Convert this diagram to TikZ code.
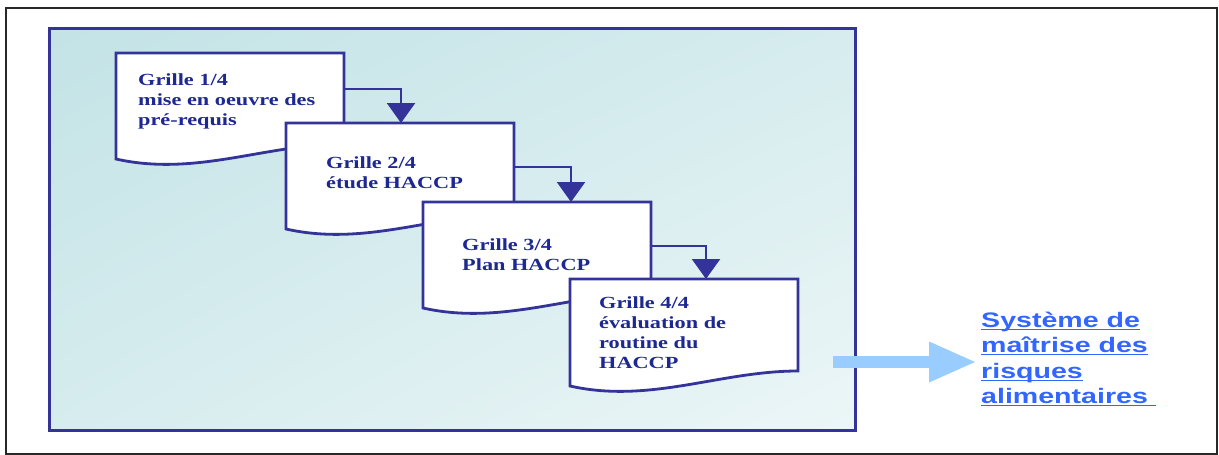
\documentclass[tikz,border=0pt]{standalone}
\usepackage{fontspec}
\usetikzlibrary{arrows.meta,calc,shadings}
\newfontfamily\docfont[FakeStretch=1.31]{Liberation Serif}
\newfontfamily\linkfont[FakeStretch=1.36]{Liberation Sans}
\definecolor{boxblue}{RGB}{51,51,153}
\definecolor{doctext}{RGB}{30,40,145}
\definecolor{linkblue}{RGB}{51,102,255}
\definecolor{arrowblue}{RGB}{153,204,255}
\definecolor{tealA}{RGB}{195,227,230}
\definecolor{tealB}{RGB}{214,236,238}
\definecolor{tealC}{RGB}{236,246,247}
\definecolor{framegray}{RGB}{40,40,40}
\newcommand\ulink[1]{\setbox0\hbox{#1}\rlap{\rule[-2.8pt]{\wd0}{1.4pt}}\box0}
\tikzset{
  docframe/.style={draw=none, inner sep=0pt, outer sep=0pt, minimum width=228pt, minimum height=106pt, anchor=north west},
  docline/.style={draw=boxblue, line width=2.8pt, fill=white, line join=miter},
  doctxt/.style={inner sep=0pt, anchor=north west, align=left, text=doctext, font=\docfont\bfseries\fontsize{17}{20}\selectfont},
  flow/.style={draw=boxblue, line width=2.4pt, -{Triangle[width=28pt,length=20pt]}},
}
\newcommand\docshape[1]{%
  \path[docline] (#1.north west) -- (#1.north east) -- ([yshift=15pt]#1.south east)
    .. controls ([xshift=-78pt,yshift=15pt]#1.south east) and ([xshift=80pt,yshift=-18pt]#1.south west) .. (#1.south west) -- cycle;}
\begin{document}
\begin{tikzpicture}[x=1pt,y=-1pt]
\useasboundingbox (0,0) rectangle (1219,455);
% outer frame
\node[draw=framegray, line width=1.8pt, inner sep=0pt, minimum width=1211pt, minimum height=446pt, anchor=north west] (frame) at (5,7) {};
% shaded box
\node[draw=boxblue, line width=3pt, upper left=tealA, upper right=tealB, lower left=tealB, lower right=tealC, inner sep=0pt, minimum width=806pt, minimum height=402pt, anchor=north west] (box) at (48,27) {};
% documents
\node[docframe] (d1) at (116,53) {};
\docshape{d1}
\node[docframe] (d2) at (286,123) {};
\docshape{d2}
\node[docframe] (d3) at (423,202) {};
\docshape{d3}
\node[docframe, minimum height=107pt] (d4) at (570,279) {};
\docshape{d4}
% texts
\node[doctxt] (t1) at (138,73.3) {Grille 1/4\\mise en oeuvre des\\pré-requis};
\node[doctxt] (t2) at (326,156.3) {Grille 2/4\\étude HACCP};
\node[doctxt] (t3) at (462,238.3) {Grille 3/4\\Plan HACCP};
\node[doctxt] (t4) at (599,296.3) {Grille 4/4\\évaluation de\\routine du\\HACCP};
% connectors
\draw[flow] ([yshift=-36pt]d1.north east) -| ([xshift=115pt]d2.north west);
\draw[flow] ([yshift=-44pt]d2.north east) -| ([xshift=148pt]d3.north west);
\draw[flow] ([yshift=-44pt]d3.north east) -| ([xshift=136pt]d4.north west);
% result text
\node[inner sep=0pt, anchor=north west, align=left, text=linkblue, font=\linkfont\bfseries\fontsize{21}{25.5}\selectfont] (t5) at (981,311.5)
  {\ulink{Système de}\\\ulink{maîtrise des}\\\ulink{risques}\\\ulink{alimentaires\ }};
% big arrow
\coordinate (bs) at (833,362);
\coordinate (be) at (977,362);
\draw[arrowblue, line width=12pt, -{Triangle[width=37pt,length=48pt]}] (bs) -- (be);
\end{tikzpicture}
\end{document}
